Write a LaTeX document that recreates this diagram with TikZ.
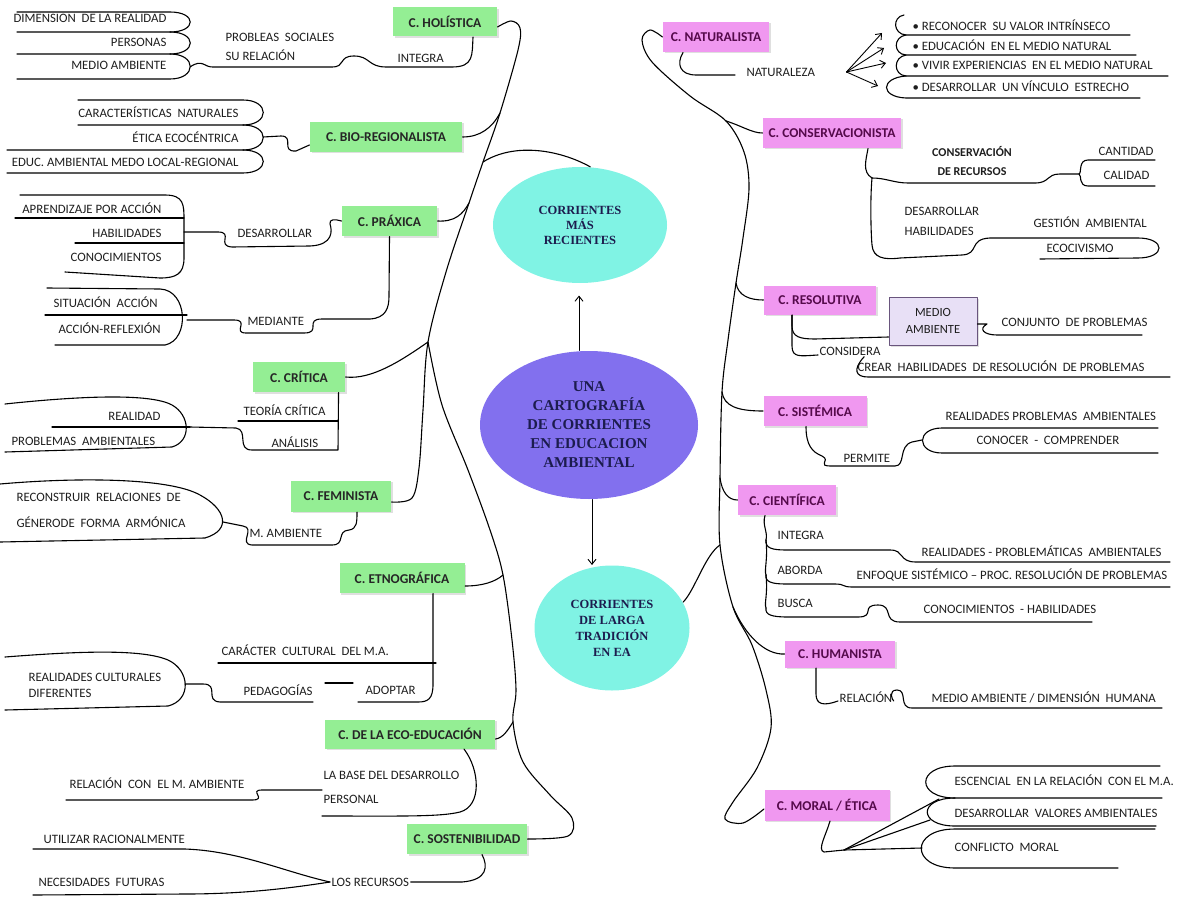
\documentclass[tikz,border=0pt]{standalone}
\usepackage{fontspec}
\setmainfont{Carlito}
\newfontfamily\serifcaps{Liberation Serif}
\usetikzlibrary{shapes,arrows.meta,positioning,calc,shadows}

\definecolor{recgreen}{RGB}{148,238,148}
\definecolor{tradpink}{RGB}{240,152,240}
\definecolor{pinktext}{RGB}{85,10,75}
\definecolor{lavbox}{RGB}{232,224,246}
\definecolor{lavline}{RGB}{105,85,125}
\definecolor{aquaell}{RGB}{128,243,228}
\definecolor{violetell}{RGB}{130,112,238}
\definecolor{navytext}{RGB}{28,28,78}
\definecolor{labeltext}{RGB}{30,30,30}

\begin{document}
\begin{tikzpicture}[x=1pt, y=-1pt, line width=1.1pt, line cap=round, line join=round]
  \tikzstyle{recbox}=[rectangle, fill=recgreen, text=black!85, font=\bfseries\fontsize{13.5}{15}\selectfont, minimum height=29, inner sep=2pt, drop shadow={shadow xshift=1.5pt, shadow yshift=-1.5pt, opacity=0.25}]
  \tikzstyle{tradbox}=[rectangle, fill=tradpink, text=pinktext, font=\bfseries\fontsize{13.5}{15}\selectfont, minimum height=29, inner sep=2pt, drop shadow={shadow xshift=1.5pt, shadow yshift=-1.5pt, opacity=0.25}]
  \tikzstyle{lbl}=[font=\fontsize{12.8}{14}\selectfont, text=labeltext, inner sep=1pt]
  \tikzstyle{lblbold}=[lbl, font=\bfseries\fontsize{12}{14}\selectfont]
  \tikzstyle{arr}=[-{Straight Barb[length=5pt,width=8pt]}, line width=0.9pt]

  \useasboundingbox (0,0) rectangle (1182,896);

  % elipses centrales
  \node[ellipse, fill=violetell, minimum width=218, minimum height=148, inner sep=0pt, text=navytext, align=center, font=\serifcaps\bfseries\fontsize{15}{19}\selectfont] (map) at (589,425) {UNA\\CARTOGRAFÍA\\DE CORRIENTES\\EN EDUCACION\\AMBIENTAL};
  \node[ellipse, fill=aquaell, minimum width=174, minimum height=116, inner sep=0pt, text=navytext, align=center, font=\serifcaps\bfseries\fontsize{12.5}{15}\selectfont] (recent) at (580,225) {CORRIENTES\\MÁS\\RECIENTES};
  \node[ellipse, fill=aquaell, minimum width=155, minimum height=125, inner sep=0pt, text=navytext, align=center, font=\serifcaps\bfseries\fontsize{12.5}{16}\selectfont] (larga) at (612,628) {CORRIENTES\\DE LARGA\\TRADICIÓN\\EN EA};

  \draw[arr] ([xshift=-10pt]map.north) -- ([xshift=-1pt,yshift=-12pt]recent.south);
  \draw[arr] ([xshift=3pt]map.south) -- ([xshift=-20pt]larga.north);

  % corrientes recientes
  \node[recbox, minimum width=104] (hol) at (445,22) {C. HOLÍSTICA};
  \node[recbox, minimum width=152, minimum height=30] (bio) at (386,137) {C. BIO-REGIONALISTA};
  \node[recbox, minimum width=95, minimum height=30] (prax) at (389.5,221) {C. PRÁXICA};
  \node[recbox, minimum width=92, minimum height=30] (crit) at (299,377) {C. CRÍTICA};
  \node[recbox, minimum width=100, minimum height=31] (fem) at (341,496) {C. FEMINISTA};
  \node[recbox, minimum width=125, minimum height=30] (etno) at (402,578) {C. ETNOGRÁFICA};
  \node[recbox, minimum width=170] (eco) at (410,734) {C. DE LA ECO-EDUCACIÓN};
  \node[recbox, minimum width=120, minimum height=30] (sost) at (467,839) {C. SOSTENIBILIDAD};

  % corrientes de larga tradicion
  \node[tradbox, minimum width=106, minimum height=30] (nat) at (716,37) {C. NATURALISTA};
  \node[tradbox, minimum width=138, minimum height=30] (cons) at (832,133) {C. CONSERVACIONISTA};
  \node[tradbox, minimum width=112] (reso) at (820,300) {C. RESOLUTIVA};
  \node[rectangle, draw=lavline, line width=1pt, fill=lavbox, minimum width=88, minimum height=48, align=center, text=labeltext, font=\fontsize{12.5}{17}\selectfont, drop shadow={shadow xshift=1.5pt, shadow yshift=-1.5pt, opacity=0.25}] (medio) at (933,321) {MEDIO\\AMBIENTE};
  \node[tradbox, minimum width=103, minimum height=30] (sist) at (815,411) {C. SISTÉMICA};
  \node[tradbox, minimum width=98, minimum height=30] (cien) at (787,500) {C. CIENTÍFICA};
  \node[tradbox, minimum width=110, minimum height=27] (hum) at (840,654) {C. HUMANISTA};
  \node[tradbox, minimum width=125, minimum height=31] (moral) at (827,805) {C. MORAL / ÉTICA};

  % textos izquierda
  \node[lbl, anchor=east] (dimrea) at (168,18) {DIMENSION~ DE LA REALIDAD};
  \node[lbl, anchor=east] (person) at (168,42) {PERSONAS};
  \node[lbl, anchor=east] (medamb) at (168,65) {MEDIO AMBIENTE};
  \node[lbl, anchor=west] (probsoc) at (224,37) {PROBLEAS~ SOCIALES};
  \node[lbl, anchor=west] (surel) at (224,55) {SU RELACIÓN};
  \node[lbl, anchor=west] (integ) at (396,58) {INTEGRA};
  \node[lbl, anchor=east] (caract) at (240,112) {CARACTERÍSTICAS~ NATURALES};
  \node[lbl, anchor=east] (etica) at (240,137) {ÉTICA ECOCÉNTRICA};
  \node[lbl, anchor=east] (educam) at (240,162) {EDUC. AMBIENTAL MEDO LOCAL-REGIONAL};
  \node[lbl, anchor=east] (aprend) at (163,208) {APRENDIZAJE POR ACCIÓN};
  \node[lbl, anchor=east] (habil) at (163,233) {HABILIDADES};
  \node[lbl, anchor=east] (conoc) at (163,257) {CONOCIMIENTOS};
  \node[lbl, anchor=west] (desarr) at (236,233) {DESARROLLAR};
  \node[lbl, anchor=west] (situac) at (52,302) {SITUACIÓN~ ACCIÓN};
  \node[lbl, anchor=west] (accref) at (57,328) {ACCIÓN-REFLEXIÓN};
  \node[lbl, anchor=west] (median) at (246,321) {MEDIANTE};
  \node[lbl, anchor=west] (teoria) at (242,410) {TEORÍA CRÍTICA};
  \node[lbl, anchor=west] (analis) at (270,442) {ANÁLISIS};
  \node[lbl, anchor=east] (realid) at (162,416) {REALIDAD};
  \node[lbl, anchor=west] (probam) at (10,441) {PROBLEMAS~ AMBIENTALES};
  \node[lbl, anchor=west] (recons) at (15,497) {RECONSTRUIR~ RELACIONES~ DE};
  \node[lbl, anchor=west] (genero) at (15,522) {GÉNERODE~ FORMA~ ARMÓNICA};
  \node[lbl, anchor=west] (mamb) at (248,533) {M. AMBIENTE};
  \node[lbl, anchor=west] (caracter) at (220,650) {CARÁCTER~ CULTURAL~ DEL M.A.};
  \node[lbl, anchor=west] (pedag) at (242,690) {PEDAGOGÍAS};
  \node[lbl, anchor=west] (adopt) at (364,690) {ADOPTAR};
  \node[lbl, anchor=west] (realcu) at (27,677) {REALIDADES CULTURALES};
  \node[lbl, anchor=west] (difer) at (27,693) {DIFERENTES};
  \node[lbl, anchor=west] (labase) at (322,775) {LA BASE DEL DESARROLLO};
  \node[lbl, anchor=west] (persnl) at (322,799) {PERSONAL};
  \node[lbl, anchor=west] (relma) at (68,783) {RELACIÓN~ CON~ EL M. AMBIENTE};
  \node[lbl, anchor=west] (utiliz) at (42,839) {UTILIZAR RACIONALMENTE};
  \node[lbl, anchor=west] (necfut) at (37,882) {NECESIDADES~ FUTURAS};
  \node[lbl, anchor=west] (recurs) at (330,882) {LOS RECURSOS};

  % textos derecha
  \node[lbl, anchor=west] (natur) at (745,72) {NATURALEZA};
  \node[lbl, anchor=west] (it1) at (911,25) {• RECONOCER~ SU VALOR INTRÍNSECO};
  \node[lbl, anchor=west] (it2) at (911,45) {• EDUCACIÓN~ EN EL MEDIO NATURAL};
  \node[lbl, anchor=west] (it3) at (911,65) {• VIVIR EXPERIENCIAS~ EN EL MEDIO NATURAL};
  \node[lbl, anchor=west] (it4) at (911,86) {• DESARROLLAR~ UN VÍNCULO~ ESTRECHO};
  \node[lblbold] (conserv) at (972,152) {CONSERVACIÓN};
  \node[lblbold] (derec) at (972,172) {DE RECURSOS};
  \node[lbl, anchor=west] (cantid) at (1097,151) {CANTIDAD};
  \node[lbl, anchor=west] (calid) at (1102,175) {CALIDAD};
  \node[lbl, anchor=west] (desarr2) at (903,211) {DESARROLLAR};
  \node[lbl, anchor=west] (habil2) at (903,231) {HABILIDADES};
  \node[lbl, anchor=west] (gestion) at (1032,222) {GESTIÓN~ AMBIENTAL};
  \node[lbl, anchor=west] (ecociv) at (1045,248) {ECOCIVISMO};
  \node[lbl, anchor=west] (conjun) at (1000,322) {CONJUNTO~ DE PROBLEMAS};
  \node[lbl, anchor=west] (consid) at (818,351) {CONSIDERA};
  \node[lbl, anchor=west] (crear) at (856,366) {CREAR~ HABILIDADES~ DE RESOLUCIÓN~ DE PROBLEMAS};
  \node[lbl, anchor=west] (permite) at (842,458) {PERMITE};
  \node[lbl, anchor=west] (realpa) at (944,416) {REALIDADES PROBLEMAS~ AMBIENTALES};
  \node[lbl, anchor=west] (conocer) at (975,440) {CONOCER~ -~ COMPRENDER};
  \node[lbl, anchor=west] (integ2) at (776,535) {INTEGRA};
  \node[lbl, anchor=west] (realpr) at (920,551) {REALIDADES - PROBLEMÁTICAS~ AMBIENTALES};
  \node[lbl, anchor=west] (aborda) at (776,570) {ABORDA};
  \node[lbl, anchor=west] (enfoq) at (855,575) {ENFOQUE SISTÉMICO – PROC. RESOLUCIÓN DE PROBLEMAS};
  \node[lbl, anchor=west] (busca) at (776,603) {BUSCA};
  \node[lbl, anchor=west] (conhab) at (922,609) {CONOCIMIENTOS~ - HABILIDADES};
  \node[lbl, anchor=west] (relac) at (838,697) {RELACIÓN};
  \node[lbl, anchor=west] (mahum) at (930,697) {MEDIO AMBIENTE / DIMENSIÓN~ HUMANA};
  \node[lbl, anchor=west] (escen) at (953,780) {ESCENCIAL~ EN LA RELACIÓN~ CON EL M.A.};
  \node[lbl, anchor=west] (valores) at (953,813) {DESARROLLAR~ VALORES AMBIENTALES};
  \node[lbl, anchor=west] (conflic) at (953,847) {CONFLICTO~ MORAL};

  % troncos izquierda
  \coordinate (hA) at ([yshift=-5pt]hol.east);
  \coordinate (fA) at ([yshift=-6pt]fem.east);
  \coordinate (bj) at (500,113);
  \coordinate (ej) at (483,162);
  \coordinate (pj) at (469,203);
  \coordinate (cj) at (428,342);
  \coordinate (ej2) at (503,575);
  \coordinate (ecoj) at (513,722);
  \draw plot[smooth, tension=0.55] coordinates {(hA) (511,21) (520,28) (518,50) (bj) (ej) (pj) (446,272) (cj) (423,410) (419,468) (412,498) (fA)};
  \draw (recent.80) .. controls (560,150) and (515,142) .. (ej);
  \draw plot[smooth, tension=0.55] coordinates {(cj) (442,405) (468,470) (490,530) (ej2) (512,640) (516,690) (ecoj) (523,762) (550,795) (572,818) (568,836) (sost.east)};
  \draw (bio.east) .. controls (480,137) and (492,128) .. (bj);
  \draw (prax.east) .. controls (455,222) and (463,214) .. (pj);
  \draw (crit.east) .. controls (372,380) and (402,360) .. (cj);
  \draw ([yshift=-8pt]etno.east) .. controls (482,586) and (495,582) .. (ej2);
  \draw ([yshift=-5pt]eco.east) .. controls (503,738) and (508,730) .. (ecoj);

  % troncos derecha
  \coordinate (rj1) at (726,121);
  \coordinate (rj2) at (736,283);
  \coordinate (rj3) at (722,392);
  \coordinate (rj4) at (720,478);
  \coordinate (rj5) at (720,545);
  \coordinate (rj6) at (733,607);
  \coordinate (mW) at ([yshift=-4pt]moral.west);
  \draw plot[smooth, tension=0.55] coordinates {(nat.west) (650,30) (642,40) (652,62) (690,96) (rj1) (744,152) (749,188) (743,238) (rj2) (728,340) (rj3) (rj4) (rj5) (rj6) (752,645) (766,690) (771,728) (757,768) (733,802) (725,819) (743,823) (mW)};
  \draw (rj1) .. controls (742,126) and (752,133) .. (cons.west);
  \draw (rj2) .. controls (738,296) and (750,300) .. (reso.west);
  \draw (rj3) .. controls (724,406) and (737,411) .. (sist.west);
  \draw (rj4) .. controls (722,492) and (728,500) .. (cien.west);
  \draw (larga.20) .. controls (695,590) and (705,555) .. (rj5);
  \draw (rj6) .. controls (745,635) and (765,655) .. (hum.west);

  % holistica
  \draw (17,12) -- (170,12) .. controls (197,12) and (197,32) .. (170,32) -- (17,32);
  \draw (170,32) .. controls (197,32) and (197,54) .. (170,54) -- (17,54);
  \draw (170,54) .. controls (197,54) and (197,79) .. (170,79) -- (17,79);
  \coordinate (tg1) at (190,67);
  \draw (tg1) .. controls (203,58) and (204,68) .. (214,67) -- (332,67) .. controls (346,67) and (338,56) .. (354,56) .. controls (370,56) and (368,67) .. (386,67) -- (452,67) .. controls (474,67) and (472,55) .. ([xshift=28pt]hol.south);

  % bio-regionalista
  \draw (78,100) -- (243,100) .. controls (270,100) and (270,125) .. (243,125) -- (78,125);
  \draw (243,125) .. controls (270,125) and (270,150) .. (243,150) -- (7,150);
  \draw (243,150) .. controls (270,150) and (270,173) .. (243,173) -- (7,173);
  \coordinate (tg2) at (263,137);
  \draw (tg2) -- (281,136) .. controls (295,136) and (280,152) .. (296,151) -- ([yshift=-8pt]bio.west);

  % praxica
  \draw (20,195) -- (165,195) .. controls (184,195) and (184,205) .. (184,220) -- (184,258) .. controls (184,274) and (176,278) .. (160,278) -- (65,272);
  \draw (15,218) -- (184,218);
  \draw (75,243) -- (184,243);
  \coordinate (tg3) at (184,232);
  \draw (tg3) -- (218,232) .. controls (234,232) and (216,246) .. (232,247) -- (310,246) .. controls (334,245) and (332,230) .. (330,224) .. controls (329,219) and (335,219) .. (prax.west);
  \draw (47,288) -- (160,289) .. controls (188,290) and (190,340) .. (165,345) -- (55,345);
  \draw (45,315) -- (187,315);
  \coordinate (tg4) at (187,320);
  \draw (tg4) -- (234,320) .. controls (250,320) and (232,333) .. (246,333) -- (304,333) .. controls (322,333) and (304,319) .. (322,319) -- (370,319) .. controls (386,318) and (389,308) .. (389,296) -- (prax.south);

  % critica
  \coordinate (tg5) at (190,427);
  \draw ([xshift=-7pt]crit.south east) -- (338,450) -- (252,450) .. controls (236,450) and (249,430) .. (236,428) -- (tg5);
  \draw (238,421) -- (338,421);
  \draw (5,404) .. controls (80,396) and (150,393) .. (172,405) .. controls (190,415) and (192,441) .. (172,447) -- (5,452);
  \draw (52,427) -- (tg5);

  % feminista
  \draw (0,484) .. controls (80,477) and (170,478) .. (200,495) .. controls (226,509) and (232,530) .. (205,538) -- (0,542);
  \coordinate (tg6) at (223,522);
  \draw (tg6) -- (243,526) .. controls (256,528) and (238,544) .. (252,545) -- (332,545) .. controls (346,545) and (336,531) .. (349,530) .. controls (357,529) and (357,522) .. ([xshift=16pt]fem.south);

  % etnografica
  \draw ([xshift=31pt]etno.south) -- (433,684) .. controls (433,699) and (428,702) .. (418,702) -- (358,702);
  \draw (218,663) -- (436,663);
  \draw (325,683) -- (353,683);
  \draw (5,657) .. controls (70,652) and (140,648) .. (168,660) .. controls (190,670) and (192,700) .. (168,706) -- (5,710);
  \coordinate (tg7) at (185,684);
  \draw (tg7) -- (203,684) .. controls (220,684) and (204,701) .. (220,702) -- (313,702);

  % eco-educacion
  \draw ([xshift=54pt]eco.south) .. controls (480,770) and (482,806) .. (460,812) .. controls (440,817) and (400,816) .. (322,816);
  \coordinate (eb) at (322,790);
  \draw (eb) -- (262,790) .. controls (248,790) and (268,800) .. (252,800) -- (66,800);

  % sostenibilidad
  \draw ([xshift=15pt]sost.south) .. controls (488,866) and (488,880) .. (462,882) -- (recurs.east);
  \draw (recurs.west) .. controls (285,872) and (240,851) .. (185,849) -- (33,849);
  \draw (recurs.west) .. controls (285,889) and (240,894) .. (185,894) -- (33,895);

  % naturalista
  \draw ([xshift=-33pt]nat.south) .. controls (676,64) and (680,75) .. (696,75) -- ([xshift=-10pt,yshift=-3pt]natur.west);
  \coordinate (nf) at ([xshift=30pt]natur.east);
  \coordinate (b1) at (882,33);
  \coordinate (b2) at (884,48);
  \coordinate (b3) at (886,63);
  \coordinate (b4) at (878,86);
  \foreach \b in {b1,b2,b3,b4}
    \draw[arr] (nf) -- (\b);
  \draw (904,15) .. controls (892,17) and (893,34) .. (906,35) -- (1130,35);
  \draw (906,35) .. controls (893,37) and (893,54) .. (906,55) -- (1136,55);
  \draw (906,55) .. controls (893,57) and (893,75) .. (906,76) -- (1168,76);
  \draw (906,76) .. controls (880,78) and (880,97) .. (906,98) -- (1140,98);

  % conservacionista
  \coordinate (cbr) at (872,178);
  \draw ([xshift=36pt]cons.south) .. controls (866,160) and (862,172) .. (cbr);
  \draw (cbr) .. controls (886,178) and (894,183) .. (908,183) -- (1035,183) .. controls (1050,183) and (1046,174) .. (1060,174) -- (1079,174);
  \draw (1155,160) -- (1088,160) .. controls (1078,160) and (1082,173) .. (1079,174) .. controls (1082,175) and (1078,186) .. (1088,186) -- (1155,186);
  \draw (cbr) .. controls (870,200) and (871,235) .. (872,245) .. controls (873,258) and (884,260) .. (900,258) -- (962,255) .. controls (980,254) and (968,239) .. (990,238) -- (1138,238) .. controls (1166,238) and (1166,258) .. (1138,258) -- (1040,259);

  % resolutiva
  \draw ([xshift=-28pt]reso.south) -- (792,326) .. controls (792,337) and (800,339) .. (815,339) -- ([yshift=-16pt]medio.west);
  \draw ([xshift=-28pt]reso.south) -- (792,346) .. controls (792,358) and (800,356) .. ([yshift=-4pt]consid.west);
  \draw ([xshift=-18pt]consid.south east) .. controls (852,370) and (856,377) .. (868,377) -- (1170,377);
  \draw ([yshift=-3pt]medio.east) -- (987,324) .. controls (978,329) and (984,335) .. (997,335) -- (1142,335);

  % sistemica
  \coordinate (tg8) at (922,440);
  \draw ([xshift=-9pt]sist.south) .. controls (806,445) and (812,452) .. (822,456) .. controls (832,461) and (815,466) .. (832,466) -- (895,466) .. controls (906,466) and (898,446) .. (912,442) -- (tg8);
  \draw (1158,428) -- (942,428) .. controls (916,428) and (916,453) .. (942,453) -- (1158,453);

  % cientifica
  \coordinate (sp1) at (766,540);
  \coordinate (sp2) at (766,575);
  \coordinate (sp3) at (766,608);
  \draw ([xshift=-22pt]cien.south) .. controls (762,525) and (768,532) .. (sp1);
  \draw (sp1) .. controls (765,548) and (772,550) .. (786,550) -- (890,550) .. controls (905,550) and (898,562) .. (916,562) -- (1170,562);
  \draw (sp1) .. controls (768,560) and (764,570) .. (sp2);
  \draw (sp2) .. controls (765,582) and (772,584) .. (786,584) -- (835,584) .. controls (845,584) and (842,587) .. (852,587) -- (1170,587);
  \draw (sp2) .. controls (768,595) and (764,603) .. (sp3);
  \draw (sp3) .. controls (765,615) and (772,617) .. (788,617) -- (858,617) .. controls (876,617) and (860,605) .. (878,605) .. controls (894,605) and (882,622) .. (900,622) -- (1092,622);

  % humanista
  \draw ([xshift=-24pt]hum.south) -- (816,694) .. controls (816,705) and (824,706) .. ([yshift=-4pt]relac.west);
  \draw ([yshift=-4pt]relac.east) .. controls (892,700) and (888,690) .. (897,690) .. controls (908,690) and (898,708) .. (912,708) -- (1162,708);

  % moral / etica
  \coordinate (mfan) at (844,850);
  \draw ([xshift=3pt]moral.south) .. controls (826,835) and (817,850) .. (824,852) -- (mfan);
  \draw (mfan) -- (939,799);
  \draw (mfan) -- (930,820);
  \draw (mfan) -- (922,848);
  \draw (1160,766) -- (955,766) .. controls (916,766) and (916,798) .. (955,798) -- (1162,798);
  \draw (955,798) .. controls (918,798) and (918,826) .. (955,826) -- (1156,826);
  \draw (1155,829) -- (955,829) .. controls (910,829) and (910,868) .. (955,868) -- (1118,868);
\end{tikzpicture}
\end{document}
